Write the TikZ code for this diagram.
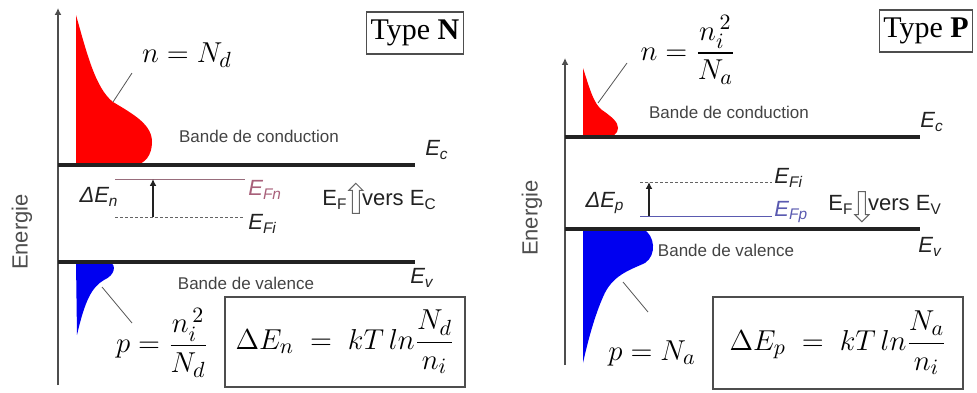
\documentclass[tikz,border=0pt]{standalone}
\usepackage{fontspec}
\setmainfont{Liberation Serif}
\setsansfont{Liberation Sans}
\usepackage{amsmath}
\usetikzlibrary{arrows.meta, positioning, shapes.arrows}
\definecolor{cband}{HTML}{FF0000}
\definecolor{vband}{HTML}{0000F0}
\definecolor{efn}{HTML}{A8607A}
\definecolor{efp}{HTML}{5A5AB0}
\definecolor{ink}{HTML}{222222}
\definecolor{lead}{HTML}{555555}
\tikzset{
  axis/.style={line width=1pt, color=ink!80, -{Latex[length=1.2mm,width=1.2mm]}},
  level/.style={line width=1.6pt, color=ink},
  fermi/.style={line width=0.5pt},
  intr/.style={line width=0.5pt, dash pattern=on 1.5pt off 1pt, color=ink!70},
  gap/.style={-{Latex[length=1.2mm,width=1.2mm]}, line width=0.8pt, color=ink},
  leader/.style={line width=0.4pt, color=lead},
  bandlbl/.style={font=\sffamily\fontsize{8.5}{10}\selectfont, color=ink!85},
  elbl/.style={font=\sffamily\itshape\fontsize{11}{12}\selectfont, inner sep=0pt, color=ink},
  vlbl/.style={font=\sffamily\fontsize{11}{12}\selectfont, inner sep=0pt, color=ink},
  eq/.style={font=\fontsize{15}{18}\selectfont, inner sep=1pt},
  eqbox/.style={draw=ink!80, line width=0.6pt, inner sep=2pt},
  typebox/.style={draw=ink!80, line width=0.6pt, font=\fontsize{15}{18}\selectfont,
                  minimum height=21pt, inner sep=2pt},
  hollow/.style={single arrow, draw=ink!70, line width=0.5pt, minimum height=15pt,
                 minimum width=7pt, single arrow head extend=1.5pt, inner sep=1.2pt},
}
\begin{document}
\begin{tikzpicture}[x=0.5pt,y=-0.5pt]
\useasboundingbox (0,0) rectangle (977,392);
\coordinate (aN0) at (58,385); \coordinate (aN1) at (58,8);
\coordinate (ecN0) at (58,165); \coordinate (ecN1) at (415,165);
\coordinate (evN0) at (58,262); \coordinate (evN1) at (415,262);
\coordinate (fnN0) at (115,179); \coordinate (fnN1) at (245,179);
\coordinate (fiN0) at (115,217); \coordinate (fiN1) at (245,217);
\coordinate (gN0) at (153,217); \coordinate (gN1) at (153,179);
\coordinate (lnN0) at (113,102); \coordinate (lnN1) at (132,73);
\coordinate (lpN0) at (102,287); \coordinate (lpN1) at (132,323);
\fill[cband] (76,165) -- (76,15) .. controls (86,50) and (95,88) .. (113,102)
  .. controls (135,115) and (152,125) .. (152,142) .. controls (152,155) and (145,164) .. (135,165) -- cycle;
\fill[vband] (76,262) -- (111,262) .. controls (116,266) and (115,275) .. (104,280)
  .. controls (92,287) and (85,300) .. (77,335) -- cycle;
\draw[axis] (aN0) -- (aN1);
\draw[level] (ecN0) -- (ecN1);
\draw[level] (evN0) -- (evN1);
\draw[fermi, efn!60!gray] (fnN0) -- (fnN1);
\draw[intr] (fiN0) -- (fiN1);
\draw[gap] (gN0) -- (gN1);
\draw[leader] (lnN0) -- (lnN1);
\draw[leader] (lpN0) -- (lpN1);
\node[eq] (nN) at (187,55) {$n = N_d$};
\node[typebox] (typeN) at (415,33) {Type \textbf{N}};
\node[bandlbl] (bcN) at (259,136) {Bande de conduction};
\node[bandlbl] (bvN) at (246,283) {Bande de valence};
\node[elbl] (ecN) at (437,150) {E\textsubscript{c}};
\node[elbl] (evN) at (422,278) {E\textsubscript{v}};
\node[elbl, text=efn, anchor=west] (efnN) at (248,190) {E\textsubscript{Fn}};
\node[elbl, anchor=west] (efiN) at (248,224) {E\textsubscript{Fi}};
\node[elbl] (denN) at (99,197) {ΔE\textsubscript{n}};
\node[vlbl, anchor=west] (efN) at (322,200) {E\textsubscript{F}};
\node[hollow, shape border rotate=90, right=2pt of efN] (upN) {};
\node[vlbl, right=1pt of upN] (vcN) {vers E\textsubscript{C}};
\node[vlbl, rotate=90, color=ink!80] (enN) at (22,232) {Energie};
\node[eq] (pN) at (162,343) {$p=\dfrac{n_i^{\,2}}{N_d}$};
\node[eq, eqbox, minimum width=120pt, minimum height=45pt] (boxN) at (345,342)
  {$\Delta E_n \;=\; kT\,ln\dfrac{N_d}{n_i}$};
\coordinate (aP0) at (565,365); \coordinate (aP1) at (565,58);
\coordinate (ecP0) at (565,137); \coordinate (ecP1) at (920,137);
\coordinate (evP0) at (565,229); \coordinate (evP1) at (920,229);
\coordinate (fiP0) at (640,182); \coordinate (fiP1) at (772,182);
\coordinate (fpP0) at (640,216); \coordinate (fpP1) at (772,216);
\coordinate (gP0) at (649,216); \coordinate (gP1) at (649,182);
\coordinate (lnP0) at (598,103); \coordinate (lnP1) at (627,63);
\coordinate (lpP0) at (623,282); \coordinate (lpP1) at (648,312);
\fill[cband] (583,137) -- (583,68) .. controls (590,90) and (594,104) .. (602,110)
  .. controls (612,117) and (618,122) .. (618,128) .. controls (618,134) and (612,137) .. (608,137) -- cycle;
\fill[vband] (583,229) -- (643,229) .. controls (655,235) and (657,255) .. (645,263)
  .. controls (630,270) and (612,275) .. (603,297) .. controls (595,315) and (588,340) .. (583,363) -- cycle;
\draw[axis] (aP0) -- (aP1);
\draw[level] (ecP0) -- (ecP1);
\draw[level] (evP0) -- (evP1);
\draw[intr] (fiP0) -- (fiP1);
\draw[fermi, efp] (fpP0) -- (fpP1);
\draw[gap] (gP0) -- (gP1);
\draw[leader] (lnP0) -- (lnP1);
\draw[leader] (lpP0) -- (lpP1);
\node[eq] (nP) at (688,50) {$n=\dfrac{n_i^{\,2}}{N_a}$};
\node[typebox] (typeP) at (926,31) {Type \textbf{P}};
\node[bandlbl] (bcP) at (729,112) {Bande de conduction};
\node[bandlbl] (bvP) at (726,250) {Bande de valence};
\node[elbl] (ecP) at (932,122) {E\textsubscript{c}};
\node[elbl] (evP) at (930,247) {E\textsubscript{v}};
\node[elbl, anchor=west] (efiP) at (774,178) {E\textsubscript{Fi}};
\node[elbl, text=efp, anchor=west] (efpP) at (774,212) {E\textsubscript{Fp}};
\node[elbl] (depP) at (605,203) {ΔE\textsubscript{p}};
\node[vlbl, anchor=west] (efP) at (828,205) {E\textsubscript{F}};
\node[hollow, shape border rotate=270, right=2pt of efP] (dnP) {};
\node[vlbl, right=1pt of dnP] (vvP) {vers E\textsubscript{V}};
\node[vlbl, rotate=90, color=ink!80] (enP) at (532,218) {Energie};
\node[eq] (pP) at (652,353) {$p=N_a$};
\node[eq, eqbox, minimum width=125pt, minimum height=46pt] (boxP) at (838,343)
  {$\Delta E_p \;=\; kT\,ln\dfrac{N_a}{n_i}$};
\end{tikzpicture}
\end{document}
